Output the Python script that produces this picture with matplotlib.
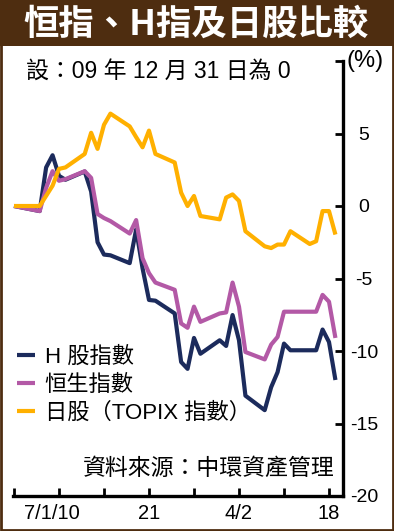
import matplotlib
matplotlib.use("Agg")
import matplotlib.pyplot as plt
import matplotlib.transforms as mtransforms
from matplotlib.patches import Rectangle

# ---- data (day offset from 31 Dec 2009, % change) ----
days = [0, 4, 5, 6, 7, 8, 11, 12, 13, 14, 15, 18, 19, 20, 21, 22, 25, 26, 27, 28,
        29, 32, 33, 34, 35, 36, 39, 40, 41, 42, 43, 46, 47, 48, 49, 50]
h_shares = [0, -0.35, 2.66, 3.5, 2.08, 1.81, 2.38, 1.0, -2.5, -3.35, -3.4, -3.94,
            -1.62, -4.3, -6.48, -6.53, -7.41, -10.76, -11.23, -9.1, -10.19, -9.26,
            -9.65, -7.52, -9.26, -13.08, -14.08, -12.5, -11.46, -9.49, -9.95, -9.95,
            -9.95, -8.52, -9.38, -12.0]
hsi = [0, -0.35, 1.25, 2.4, 1.74, 1.85, 2.4, 1.94, -0.55, -0.83, -1.04, -1.9,
       -0.97, -3.6, -4.63, -5.28, -5.78, -8.1, -8.4, -6.94, -7.99, -7.41, -7.34,
       -5.28, -6.94, -10.07, -10.58, -9.56, -9.03, -7.29, -7.29, -7.29, -7.29,
       -6.13, -6.6, -9.1]
topix = [0, 0, 0.7, 1.4, 2.56, 2.66, 3.59, 5.05, 3.94, 5.6, 6.37, 5.49, 4.75, 4.05,
         5.2, 3.59, 3.0, 0.92, 0, 0.69, -0.69, -0.92, 0.58, 0.8, 0.35, -1.74, -2.78,
         -2.9, -2.66, -2.66, -1.74, -2.62, -2.43, -0.35, -0.35, -1.97]
series_names = ["H 股指數", "恒生指數", "日股（TOPIX 指數）"]

x_major = [7, 21, 35, 49]
x_labels = ["7/1/10", "21", "4/2", "18"]
x_minor = [0, 14, 28, 42]
y_ticks = [-20, -15, -10, -5, 0, 5, 10]
y_labels = ["-20", "-15", "-10", "-5", "0", "5", ""]

brown = "#4e2d10"
colors = ["#1c2b5c", "#b359a6", "#ffb000"]
mixed = ["Liberation Sans", "Noto Sans CJK TC"]

W, H = 394, 531
fig = plt.figure(figsize=(W / 100, H / 100), dpi=100)

# title bar + frame
fig.patches.append(Rectangle((0, 1 - 46 / H), 1, 46 / H, transform=fig.transFigure,
                             facecolor=brown, edgecolor="none", zorder=0))
fig.patches.append(Rectangle((0.003, 0.002), 0.994, 0.99, transform=fig.transFigure,
                             facecolor="none", edgecolor=brown, lw=2.0, zorder=0))
fig.text(196 / W, 1 - 24 / H, "恒指、H指及日股比較", color="white", fontsize=25.5,
         fontweight="bold", family=["Noto Sans CJK TC"], ha="center", va="center")

ax = fig.add_axes([12.7 / W, 1 - 496 / H, (342.5 - 12.7) / W, 435 / H])
for d, name, c in zip([h_shares, hsi, topix], series_names, colors):
    ax.plot(days, d, color=c, lw=3.0, label=name, solid_capstyle="butt")

ax.set_xlim(-0.2, 51.1)
ax.set_ylim(-20, 10)
ax.spines["left"].set_visible(False)
ax.spines["top"].set_visible(False)
for s in ["right", "bottom"]:
    ax.spines[s].set_linewidth(2.4)

ax.set_xticks(x_major)
ax.set_xticklabels(x_labels, family=mixed, fontsize=14.5)
ax.set_xticks(x_minor, minor=True)
ax.tick_params(axis="x", which="both", direction="in", length=6, width=2, pad=6)
lab0 = ax.xaxis.get_majorticklabels()[0]
lab0.set_transform(lab0.get_transform() +
                   mtransforms.ScaledTranslation(-7 / 100, 0, fig.dpi_scale_trans))

ax.yaxis.tick_right()
ax.set_yticks(y_ticks)
ax.set_yticklabels(y_labels, family=mixed, fontsize=14)
ax.tick_params(axis="y", direction="in", length=6, width=2, pad=15.5)
for t in ax.get_yticklabels():
    t.set_horizontalalignment("center")

fig.text(365 / W, 1 - 61 / H, "(%)", family=mixed, fontsize=17, ha="center", va="center")
fig.text(26 / W, 1 - 72 / H, "設：09 年 12 月 31 日為 0", family=mixed, fontsize=16.5,
         ha="left", va="center")
fig.text(334 / W, 1 - 468 / H, "資料來源：中環資產管理", family=["Noto Sans CJK TC"],
         fontsize=16.5, ha="right", va="center")

leg = ax.legend(loc="upper left", bbox_to_anchor=(17 / W, 1 - 347 / H),
                bbox_transform=fig.transFigure, frameon=False, borderpad=0,
                borderaxespad=0, handlelength=0.8, handletextpad=0.45,
                labelspacing=0.3, prop={"family": mixed, "size": 16})

fig.savefig("out.png", dpi=100)
